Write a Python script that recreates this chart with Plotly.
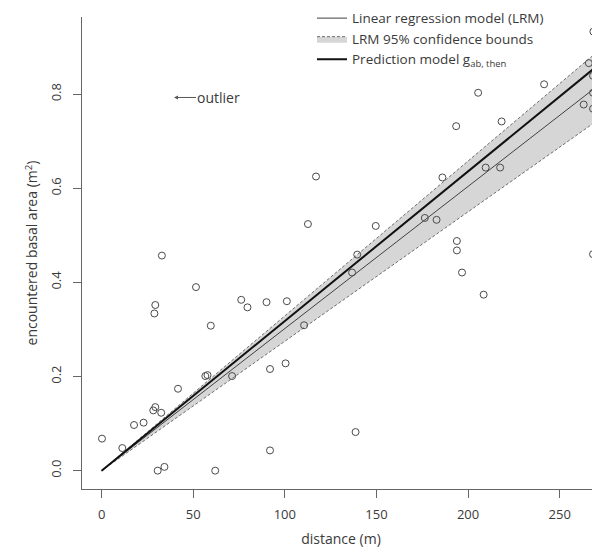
import plotly.graph_objects as go

# observed points: distance (m) and encountered basal area (m^2)
dist = [0.2, 11.3, 17.7, 22.9, 29.3, 28.2, 32.5, 29.3, 28.8, 32.9, 41.7, 51.5,
        56.6, 57.8, 59.6, 30.6, 34.3, 62.0, 71.2, 76.2, 79.6, 90.0, 91.9, 91.9,
        100.4, 101.1, 110.5, 112.6, 117.0, 136.7, 139.5, 138.6, 149.6, 176.4, 182.8,
        186.0, 193.5, 193.9, 193.9, 196.7, 205.5, 208.5, 209.6, 217.5, 218.3, 241.5,
        268.4, 265.9, 268.2, 268.2, 263.1, 268.2, 268.2]
area = [0.068, 0.048, 0.097, 0.102, 0.135, 0.128, 0.123, 0.352, 0.334, 0.457, 0.174, 0.390,
        0.201, 0.203, 0.308, 0.000, 0.008, 0.000, 0.201, 0.363, 0.347, 0.358, 0.216, 0.043,
        0.228, 0.360, 0.309, 0.524, 0.625, 0.421, 0.459, 0.082, 0.520, 0.537, 0.533,
        0.623, 0.732, 0.488, 0.468, 0.421, 0.803, 0.374, 0.644, 0.644, 0.742, 0.821,
        0.933, 0.866, 0.839, 0.803, 0.778, 0.769, 0.460]

# model lines (through origin): slopes
lrm_slope = 0.00302
ci_upper_slope = 0.00329
ci_lower_slope = 0.00275
pred_slope = 0.00318
line_x = [0, 268]
band_x = [0, 270]

outlier_pos = (39.5, 0.793)

grey_txt = "#3a3a3a"
font_family = "Open Sans, Lato, DejaVu Sans, sans-serif"

fig = go.Figure()

fig.add_trace(go.Scatter(
    x=band_x, y=[ci_lower_slope * v for v in band_x], mode="lines",
    line=dict(color="#6e6e6e", width=1, dash="3px,2px"),
    showlegend=False, hoverinfo="skip"))
fig.add_trace(go.Scatter(
    x=band_x, y=[ci_upper_slope * v for v in band_x], mode="lines",
    line=dict(color="#6e6e6e", width=1, dash="3px,2px"),
    fill="tonexty", fillcolor="rgba(200,200,200,0.75)",
    name="LRM 95% confidence bounds", legendrank=2))
fig.add_trace(go.Scatter(
    x=line_x, y=[lrm_slope * v for v in line_x], mode="lines",
    line=dict(color="#404040", width=1),
    name="Linear regression model (LRM)", legendrank=1))
fig.add_trace(go.Scatter(
    x=line_x, y=[pred_slope * v for v in line_x], mode="lines",
    line=dict(color="#111111", width=2),
    name="Prediction model g<sub>ab, then</sub>", legendrank=3))
fig.add_trace(go.Scatter(
    x=dist, y=area, mode="markers", cliponaxis=False,
    marker=dict(symbol="circle-open", size=7, color="#4a4a4a", line=dict(width=1)),
    showlegend=False))

fig.add_annotation(
    x=outlier_pos[0], y=outlier_pos[1], xref="x", yref="y",
    text="outlier", showarrow=True, ax=45, ay=0,
    arrowhead=2, arrowsize=0.8, arrowwidth=1, arrowcolor="#555555",
    font=dict(size=14, color=grey_txt, family=font_family))

# page body has an 8px default margin, so the figure is sized to fit the window
fig.update_layout(
    width=592, height=545,
    margin=dict(l=74, r=0, t=9, b=64, autoexpand=False),
    paper_bgcolor="white", plot_bgcolor="white",
    font=dict(family=font_family, color=grey_txt, size=13),
    legend=dict(x=0.444, y=1.03, xanchor="left", yanchor="top",
                traceorder="normal",
                bgcolor="rgba(0,0,0,0)", font=dict(size=13.5, color=grey_txt),
                tracegroupgap=0, itemwidth=30),
    xaxis=dict(range=[-10.7, 272], showgrid=False, zeroline=False, automargin=False,
               showline=True, linecolor="#666666", linewidth=1,
               ticks="outside", ticklen=8, tickcolor="#666666",
               ticklabelstandoff=5,
               tickvals=[0, 50, 100, 150, 200, 250],
               tickfont=dict(size=13, color=grey_txt),
               title=dict(text="distance (m)", font=dict(size=14, color=grey_txt), standoff=12)),
    yaxis=dict(range=[-0.039, 0.964], showgrid=False, zeroline=False, automargin=False,
               showline=True, linecolor="#666666", linewidth=1,
               ticks="outside", ticklen=8, tickcolor="#666666",
               ticklabelstandoff=7,
               tickvals=[0, 0.2, 0.4, 0.6, 0.8], tickformat=".1f", tickangle=-90,
               tickfont=dict(size=13, color=grey_txt),
               title=dict(text="encountered basal area (m<sup>2</sup>)",
                          font=dict(size=14, color=grey_txt), standoff=5)),
)

fig.write_html("out.html")
